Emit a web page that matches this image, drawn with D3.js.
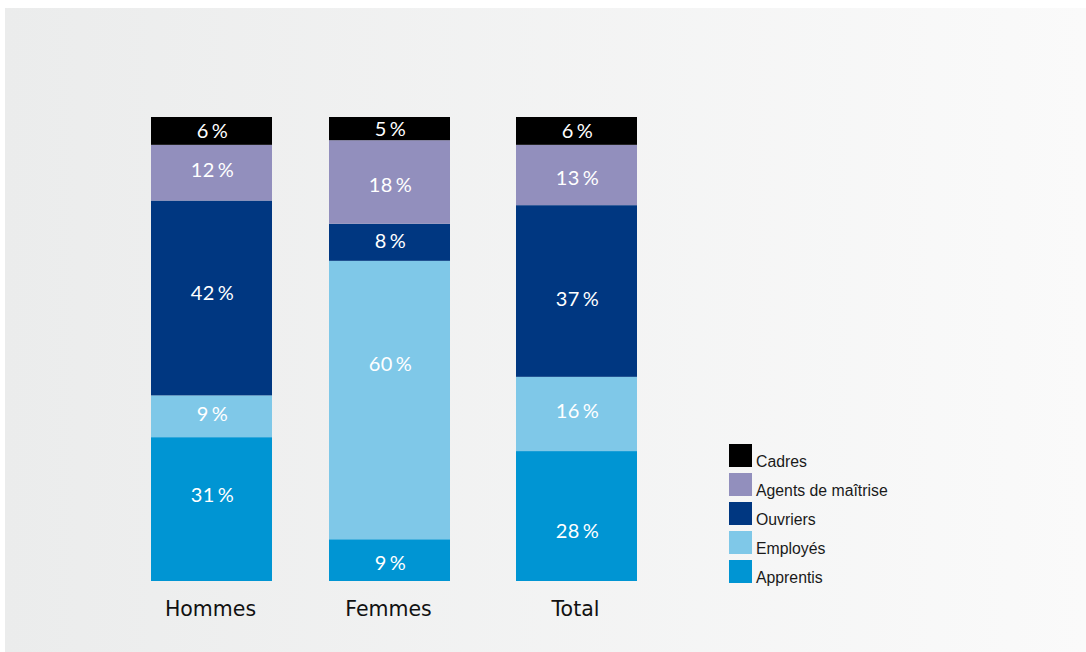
<!DOCTYPE html>
<html>
  <head>
    <meta charset="utf-8">
    <title>Répartition par catégorie</title>
    <script src="https://d3js.org/d3.v7.min.js"></script>
    <style>
      body { margin: 0; background: #fff; }
    </style>
  </head>
  <body>
    <script>
    // data
    var groups = ["Hommes", "Femmes", "Total"]
    var categories = ["Apprentis", "Employés", "Ouvriers", "Agents de maîtrise", "Cadres"]
    var apprentis = [31, 9, 28]
    var employes = [9, 60, 16]
    var ouvriers = [42, 8, 37]
    var agents = [12, 18, 13]
    var cadres = [6, 5, 6]
    var colors = ["#0095d3", "#7fc8e8", "#003781", "#928fbd", "#000000"]

    // labels in the original are not exactly centred, small nudges in px (per category, per group)
    var labelNudge = [[-14, 3, 15], [-2, -36, -3], [-5, -1, 8], [-3, 3, 3], [0, 0, 0]]

    var width = 1086,
        height = 652

    var series = [apprentis, employes, ouvriers, agents, cadres]
    var rows = groups.map(function(g, i) {
      var r = { group: g }
      categories.forEach(function(c, j) { r[c] = series[j][i] })
      return r
    })

    var svg = d3.select("body").append("svg")
      .attr("width", width)
      .attr("height", height)

    // background panel with soft gradient
    var grad = svg.append("defs").append("linearGradient")
      .attr("id", "bg").attr("x1", "0%").attr("x2", "100%")
    grad.append("stop").attr("offset", "0%").attr("stop-color", "#ebecec")
    grad.append("stop").attr("offset", "100%").attr("stop-color", "#fafafa")
    svg.append("rect")
      .attr("x", 5).attr("y", 8)
      .attr("width", width - 5).attr("height", height - 8)
      .attr("fill", "url(#bg)")

    var x = d3.scaleOrdinal()
      .domain(groups)
      .range([151, 329, 516])
    var barW = 121

    var y = d3.scaleLinear()
      .domain([0, 100])
      .range([581, 117])

    var stack = d3.stack().keys(categories)
    var layers = stack(rows)

    var layer = svg.selectAll(".layer")
      .data(layers)
      .enter().append("g")
      .attr("class", "layer")
      .attr("fill", function(d, i) { return colors[i] })

    layer.selectAll("rect")
      .data(function(d) { return d })
      .enter().append("rect")
      .attr("x", function(d) { return x(d.data.group) })
      .attr("y", function(d) { return y(d[1]) })
      .attr("width", barW)
      .attr("height", function(d) { return y(d[0]) - y(d[1]) })

    layer.each(function(L, li) {
      d3.select(this).selectAll("text")
        .data(L)
        .enter().append("text")
        .attr("x", function(d) { return x(d.data.group) + barW / 2 + 1 })
        .attr("y", function(d, gi) { return (y(d[0]) + y(d[1])) / 2 + labelNudge[li][gi] })
        .attr("dy", "0.36em")
        .attr("text-anchor", "middle")
        .attr("fill", "#fff")
        .style("font-family", "Lato, 'Noto Sans', sans-serif")
        .style("font-size", "20px")
        .style("letter-spacing", "0.5px")
        .text(function(d) { return Math.round(d[1] - d[0]) + "\u2009%" })
    })

    // group labels
    svg.selectAll(".glabel")
      .data(groups)
      .enter().append("text")
      .attr("class", "glabel")
      .attr("x", function(d) { return x(d) + barW / 2 - 1 })
      .attr("y", 616)
      .attr("text-anchor", "middle")
      .attr("fill", "#111")
      .style("font-family", "'DejaVu Sans', sans-serif")
      .style("font-size", "20.5px")
      .text(function(d) { return d })

    // legend, Cadres on top
    var legend = svg.selectAll(".legend")
      .data(categories.slice().reverse())
      .enter().append("g")
      .attr("class", "legend")
      .attr("transform", function(d, i) { return "translate(729," + (444 + i * 29) + ")" })

    legend.append("rect")
      .attr("width", 23).attr("height", 23)
      .attr("fill", function(d) { return colors[categories.indexOf(d)] })

    legend.append("text")
      .attr("x", 27).attr("y", 23)
      .attr("fill", "#1a1a1a")
      .style("font-family", "'Liberation Sans', Arial, sans-serif")
      .style("font-size", "15.8px")
      .text(function(d) { return d })
    </script>
  </body>
</html>
